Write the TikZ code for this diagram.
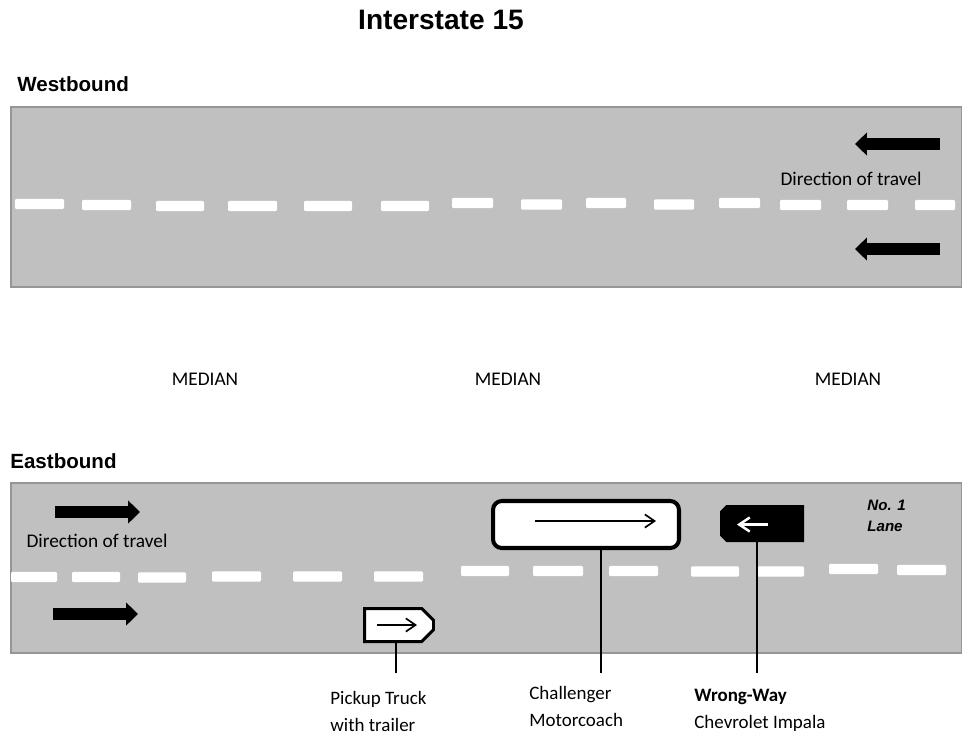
\documentclass[tikz,border=0pt]{standalone}
\usepackage{fontspec}
\newfontfamily\calibri{Carlito}
\newfontfamily\arial{Liberation Sans}
\usepackage{xcolor}
\usetikzlibrary{arrows.meta, positioning, shapes.misc}

\definecolor{roadgray}{RGB}{192,192,192}
\definecolor{roadedge}{RGB}{150,150,150}

\tikzset{
    road/.style={fill=roadgray, draw=roadedge, line width=0.6pt},
    lanemark/.style={fill=white, rounded corners=0.8pt},
    travel/.style={line width=6.8pt, -{Triangle[length=6.8pt, width=12.8pt]}},
    thinarrow/.style={line width=0.95pt, -{Straight Barb[length=5.5pt, width=7.5pt]}},
    leader/.style={line width=1.1pt},
    label/.style={font=\calibri\fontsize{10.8}{15.4}\selectfont, align=left, inner sep=0pt, anchor=north west},
    dirtext/.style={font=\calibri\fontsize{11}{13}\selectfont},
    side/.style={font=\arial\bfseries\fontsize{11.7}{14}\selectfont, anchor=west, inner sep=0pt}
}

\begin{document}
\begin{tikzpicture}[x=0.02cm, y=-0.02cm]
    \useasboundingbox (0,0) rectangle (962,738);

    % Title
    \node[font=\arial\bfseries\fontsize{16}{19}\selectfont] (title) at (441,20) {Interstate 15};

    % Westbound roadway
    \node[side] (west) at (17,84) {Westbound};
    \draw[road] (11,107) rectangle (962,287);
    \foreach \a/\b/\y in {15/64/204, 82/131/205, 156/204/206, 228/277/206, 304/352/206,
        381/429/206, 452/493/203, 521/562/204.5, 586/626/203, 654/694/204.5, 719/760/203,
        780/821/205, 847/888/205, 915/955/205}
        \fill[lanemark] (\a,\y-5.2) rectangle (\b,\y+5.2);
    \draw[travel] (940,144) -- (855,144);
    \draw[travel] (940,249) -- (855,249);
    \node[dirtext] (westdir) at (851,179) {Direction of travel};

    % Median
    \node[dirtext] (median1) at (205,379) {MEDIAN};
    \node[dirtext] (median2) at (508,379) {MEDIAN};
    \node[dirtext] (median3) at (848,379) {MEDIAN};

    % Eastbound roadway
    \node[side] (east) at (10,461) {Eastbound};
    \draw[road] (11,483) rectangle (962,653);
    \foreach \a/\b/\y in {11/57/577, 72/120/577, 138/186/577.5, 212/261/576.5, 293/342/576.5,
        374/423/576.5, 461/509/571, 533/583/571, 609/658/571, 691/739/571.5, 756/804/571.5,
        829/878/569, 897/946/570}
        \fill[lanemark] (\a,\y-5.2) rectangle (\b,\y+5.2);
    \draw[travel] (55,512) -- (140,512);
    \draw[travel] (53,614) -- (138,614);
    \node[dirtext] (eastdir) at (97,540.5) {Direction of travel};
    \node[font=\arial\bfseries\itshape\fontsize{8.6}{11.9}\selectfont, align=left, inner sep=0pt, anchor=north west]
        (lane) at (867,500) {No. 1\\Lane};

    % Vehicles
    \node[chamfered rectangle, chamfered rectangle corners={north east, south east},
        chamfered rectangle xsep=6.8pt, chamfered rectangle ysep=6.2pt,
        draw, fill=white, line width=1.7pt, minimum width=1.38cm, minimum height=0.66cm]
        (truck) at (399,625) {};
    \draw[thinarrow] (377,625) -- (417,625);

    \node[draw, fill=white, line width=2.3pt, rounded corners=5pt,
        minimum width=3.72cm, minimum height=0.94cm] (bus) at (586,524.5) {};
    \draw[thinarrow] (535,521) -- (656,521);

    \node[chamfered rectangle, chamfered rectangle corners={north west, south west},
        chamfered rectangle xsep=1.8pt, chamfered rectangle ysep=1.8pt,
        fill=black, minimum width=1.68cm, minimum height=0.74cm] (impala) at (762,523.5) {};
    \draw[white, line width=1.4pt, -{Straight Barb[length=6pt, width=8pt]}] (768,524.5) -- (737,524.5);

    % Leaders and labels
    \coordinate (truckend) at (396,673);
    \coordinate (busend) at (601,673);
    \coordinate (impalaend) at (757,673);
    \draw[leader] (truck.south -| truckend) -- (truckend);
    \draw[leader] (bus.south -| busend) -- (busend);
    \draw[leader] (impala.south -| impalaend) -- (impalaend);

    \node[label] (trucklbl) at (330,691) {Pickup Truck\\with trailer};
    \node[label] (buslbl) at (529,686) {Challenger\\Motorcoach};
    \node[label] (impalalbl) at (694,689) {\textbf{Wrong-Way}\\Chevrolet Impala};
\end{tikzpicture}
\end{document}
